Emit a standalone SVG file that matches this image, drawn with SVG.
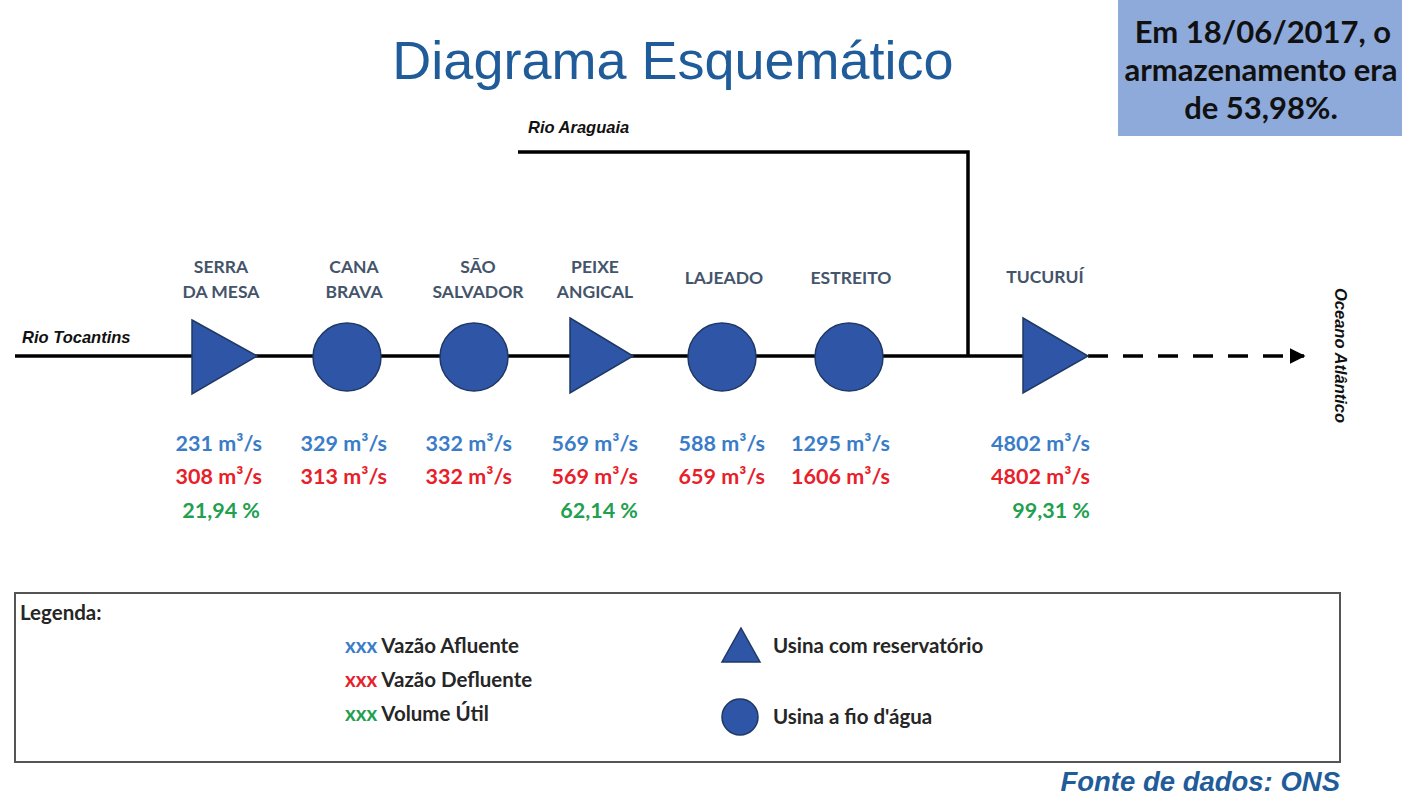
<svg xmlns="http://www.w3.org/2000/svg" width="1402" height="799" viewBox="0 0 1402 799">
<style>
.river{stroke:#000;stroke-width:3.5;fill:none}
.tri{fill:#2f56a6;stroke:#1f3864;stroke-width:1.5}
.circ{fill:#2f56a6;stroke:#1f3864;stroke-width:1.5}
.name{font-family:Lato,"Liberation Sans",sans-serif;font-weight:bold;font-size:17.5px;fill:#44546a;text-anchor:middle}
.val{font-family:Lato,"Liberation Sans",sans-serif;font-weight:bold;font-size:21.5px;text-anchor:end}
.af{fill:#3a7cc8}
.df{fill:#e8202a}
.vu{fill:#22a050}
.riv{font-family:"Liberation Sans",sans-serif;font-weight:bold;font-style:italic;font-size:16.5px;fill:#111}
.leg{font-family:Lato,"Liberation Sans",sans-serif;font-weight:bold;font-size:20.5px;fill:#262626}
.box{font-family:Lato,"Liberation Sans",sans-serif;font-weight:bold;font-size:31px;fill:#111;text-anchor:middle}
</style>
<defs>
<marker id="arr" viewBox="0 0 10 10" refX="9" refY="5" markerWidth="4.5" markerHeight="4.5" orient="auto" markerUnits="strokeWidth">
<path d="M0,0 L10,5 L0,10 z" fill="#000"/>
</marker>
</defs>
<rect width="1402" height="799" fill="#fff"/>
<text x="673" y="79" text-anchor="middle" font-family="Liberation Sans,Arial,sans-serif" font-size="54" fill="#1f5c99">Diagrama Esquemático</text>
<g id="info-box">
<rect x="1118" y="0" width="284" height="136" fill="#8eaadb"/>
<text class="box" x="1263" y="43">Em 18/06/2017, o</text>
<text class="box" x="1261" y="81">armazenamento era</text>
<text class="box" x="1261" y="119">de 53,98%.</text>
</g>
<g id="connectors">
<line class="river" x1="15" y1="356" x2="1025" y2="356"/>
<polyline class="river" points="518,152 968,152 968,356"/>
<line class="river" x1="1088" y1="356" x2="1304" y2="356" stroke-dasharray="20,15" marker-end="url(#arr)"/>
</g>
<text class="riv" x="22" y="343">Rio Tocantins</text>
<text class="riv" x="528" y="133">Rio Araguaia</text>
<text class="riv" font-size="17.5" transform="translate(1335,288) rotate(90)">Oceano Atlântico</text>
<g id="serra-da-mesa">
<polygon class="tri" points="192,320 257,356 192,394"/>
<text class="name" x="221" y="273">SERRA</text>
<text class="name" x="221" y="298">DA MESA</text>
<text class="val af" x="262" y="451">231 m³/s</text>
<text class="val df" x="262" y="484">308 m³/s</text>
<text class="val vu" x="260" y="518">21,94 %</text>
</g>
<g id="cana-brava">
<circle class="circ" cx="347" cy="357" r="34"/>
<text class="name" x="354" y="273">CANA</text>
<text class="name" x="354" y="298">BRAVA</text>
<text class="val af" x="387" y="451">329 m³/s</text>
<text class="val df" x="387" y="484">313 m³/s</text>
</g>
<g id="sao-salvador">
<circle class="circ" cx="474" cy="357" r="34"/>
<text class="name" x="478" y="273">SÃO</text>
<text class="name" x="478" y="298">SALVADOR</text>
<text class="val af" x="512" y="451">332 m³/s</text>
<text class="val df" x="512" y="484">332 m³/s</text>
</g>
<g id="peixe-angical">
<polygon class="tri" points="570,318 633,356 570,393"/>
<text class="name" x="595" y="273">PEIXE</text>
<text class="name" x="595" y="298">ANGICAL</text>
<text class="val af" x="638" y="451">569 m³/s</text>
<text class="val df" x="638" y="484">569 m³/s</text>
<text class="val vu" x="638" y="518">62,14 %</text>
</g>
<g id="lajeado">
<circle class="circ" cx="722" cy="357" r="34"/>
<text class="name" x="724" y="284">LAJEADO</text>
<text class="val af" x="765" y="451">588 m³/s</text>
<text class="val df" x="765" y="484">659 m³/s</text>
</g>
<g id="estreito">
<circle class="circ" cx="849" cy="357" r="34"/>
<text class="name" x="851" y="284">ESTREITO</text>
<text class="val af" x="890" y="451">1295 m³/s</text>
<text class="val df" x="890" y="484">1606 m³/s</text>
</g>
<g id="tucurui">
<polygon class="tri" points="1023,318 1088,356 1023,393"/>
<text class="name" x="1045" y="283">TUCURUÍ</text>
<text class="val af" x="1090" y="451">4802 m³/s</text>
<text class="val df" x="1090" y="484">4802 m³/s</text>
<text class="val vu" x="1090" y="518">99,31 %</text>
</g>
<g id="legend">
<rect x="15" y="593" width="1325" height="169" fill="#fff" stroke="#555" stroke-width="2"/>
<text class="leg" x="20" y="620">Legenda:</text>
<text class="leg" x="345" y="653"><tspan class="af">xxx</tspan> Vazão Afluente</text>
<text class="leg" x="345" y="687"><tspan class="df">xxx</tspan> Vazão Defluente</text>
<text class="leg" x="345" y="721"><tspan class="vu">xxx</tspan> Volume Útil</text>
<polygon class="tri" points="741,628 760,662 722,662"/>
<text class="leg" x="773" y="653">Usina com reservatório</text>
<circle class="circ" cx="740" cy="717" r="18"/>
<text class="leg" x="773" y="724">Usina a fio d'água</text>
</g>
<text x="1340" y="791" text-anchor="end" font-family="Liberation Sans,Arial,sans-serif" font-weight="bold" font-style="italic" font-size="27.5" fill="#1f5c99">Fonte de dados: ONS</text>
</svg>
